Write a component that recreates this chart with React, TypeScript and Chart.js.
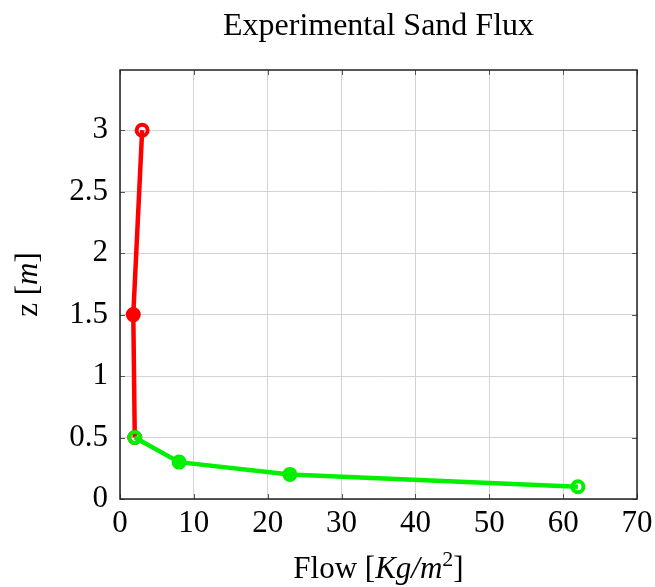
import React, { useEffect, useRef } from "react";
import { Chart, registerables } from "chart.js";

Chart.register(...registerables);

const redX = [3, 1.8, 2];
const redY = [3, 1.5, 0.5];
const greenX = [2, 8, 23, 62];
const greenY = [0.5, 0.3, 0.2, 0.1];
const xTicks = [0, 10, 20, 30, 40, 50, 60, 70];
const yTicks = [0, 0.5, 1, 1.5, 2, 2.5, 3];

const SERIF = "'Liberation Serif', 'Times New Roman', serif";
const FS = 31;

const framePlugin = {
  id: "frame",
  beforeDatasetsDraw(chart: any) {
    const { ctx, chartArea: a, scales } = chart;
    ctx.save();
    ctx.strokeStyle = "#555";
    ctx.lineWidth = 1;
    const tl = 5;
    ctx.beginPath();
    xTicks.forEach((v) => {
      const x = Math.round(scales.x.getPixelForValue(v)) + 0.5;
      ctx.moveTo(x, a.bottom);
      ctx.lineTo(x, a.bottom - tl);
      ctx.moveTo(x, a.top);
      ctx.lineTo(x, a.top + tl);
    });
    yTicks.forEach((v) => {
      const y = Math.round(scales.y.getPixelForValue(v)) + 0.5;
      ctx.moveTo(a.left, y);
      ctx.lineTo(a.left + tl, y);
      ctx.moveTo(a.right, y);
      ctx.lineTo(a.right - tl, y);
    });
    ctx.stroke();
    ctx.restore();
  },
  afterDraw(chart: any) {
    const { ctx, chartArea: a } = chart;
    ctx.save();
    ctx.strokeStyle = "#222";
    ctx.lineWidth = 1.5;
    ctx.strokeRect(a.left, a.top, a.right - a.left, a.bottom - a.top);

    ctx.fillStyle = "#000";
    const cx = (a.left + a.right) / 2;
    // Title
    ctx.font = `32px ${SERIF}`;
    ctx.textAlign = "center";
    ctx.textBaseline = "alphabetic";
    ctx.fillText("Experimental Sand Flux", cx, 35);

    // x axis title: Flow [Kg/m^2]
    const parts: [string, string, number][] = [
      ["Flow [", `${FS}px ${SERIF}`, 0],
      ["Kg/m", `italic ${FS}px ${SERIF}`, 0],
      ["2", `22px ${SERIF}`, -12],
      ["]", `${FS}px ${SERIF}`, 0],
    ];
    let total = 0;
    parts.forEach(([t, f]) => {
      ctx.font = f;
      total += ctx.measureText(t).width;
    });
    let x = cx - total / 2;
    ctx.textAlign = "left";
    parts.forEach(([t, f, dy]) => {
      ctx.font = f;
      ctx.fillText(t, x, 578 + dy);
      x += ctx.measureText(t).width;
    });

    // y axis title: z [m]
    const yparts: [string, string][] = [
      ["z [", `${FS}px ${SERIF}`],
      ["m", `italic ${FS}px ${SERIF}`],
      ["]", `${FS}px ${SERIF}`],
    ];
    let ytot = 0;
    yparts.forEach(([t, f]) => {
      ctx.font = f;
      ytot += ctx.measureText(t).width;
    });
    ctx.translate(37, (a.top + a.bottom) / 2);
    ctx.rotate(-Math.PI / 2);
    let yx = -ytot / 2;
    yparts.forEach(([t, f]) => {
      ctx.font = f;
      ctx.fillText(t, yx, 0);
      yx += ctx.measureText(t).width;
    });
    ctx.restore();
  },
};

export default function App() {
  const ref = useRef<HTMLCanvasElement>(null);
  useEffect(() => {
    document.body.style.margin = "0";
    const canvas = ref.current!;
    const toPts = (xs: number[], ys: number[]) => xs.map((v, i) => ({ x: v, y: ys[i] }));
    const chart = new Chart(canvas, {
      type: "line",
      data: {
        datasets: [
          {
            data: toPts(greenX, greenY),
            borderColor: "#00f000",
            pointBorderColor: "#00f000",
            pointBackgroundColor: ["rgba(0,0,0,0)", "#00f000", "#00f000", "rgba(0,0,0,0)"],
            borderWidth: 4.5,
            pointRadius: 5.5,
            pointBorderWidth: 4,
            tension: 0,
            order: 0,
          },
          {
            data: toPts(redX, redY),
            borderColor: "#ff0000",
            pointBorderColor: "#ff0000",
            pointBackgroundColor: ["rgba(0,0,0,0)", "#ff0000", "rgba(0,0,0,0)"],
            borderWidth: 4.5,
            pointRadius: 5.5,
            pointBorderWidth: 4,
            tension: 0,
            order: 1,
          },
        ],
      },
      options: {
        animation: false,
        responsive: false,
        layout: { padding: { top: 70, right: 18, left: 0, bottom: 0 } },
        plugins: { legend: { display: false }, title: { display: false }, tooltip: { enabled: false } },
        scales: {
          x: {
            type: "linear",
            min: 0,
            max: 70,
            afterBuildTicks: (s: any) => {
              s.ticks = xTicks.map((v) => ({ value: v }));
            },
            afterFit: (s: any) => {
              s.height = 88;
              s.paddingLeft = 0;
              s.paddingRight = 0;
            },
            ticks: {
              font: { family: SERIF, size: FS },
              color: "#000",
              padding: 6,
              maxRotation: 0,
              autoSkip: false,
              callback: (v: any) => String(v),
            },
            grid: { color: "#d3d3d3", lineWidth: 1, drawTicks: false },
            border: { display: false },
          },
          y: {
            type: "linear",
            min: 0,
            max: 3.49,
            afterBuildTicks: (s: any) => {
              s.ticks = yTicks.map((v) => ({ value: v }));
            },
            afterFit: (s: any) => {
              s.width = 120;
              s.paddingTop = 0;
              s.paddingBottom = 0;
            },
            ticks: {
              font: { family: SERIF, size: FS },
              color: "#000",
              padding: 12,
              autoSkip: false,
              callback: (v: any) => String(v),
            },
            grid: { color: "#d3d3d3", lineWidth: 1, drawTicks: false },
            border: { display: false },
          },
        },
      },
      plugins: [framePlugin],
    });
    return () => chart.destroy();
  }, []);
  return <canvas ref={ref} width={655} height={587} style={{ display: "block" }} />;
}
